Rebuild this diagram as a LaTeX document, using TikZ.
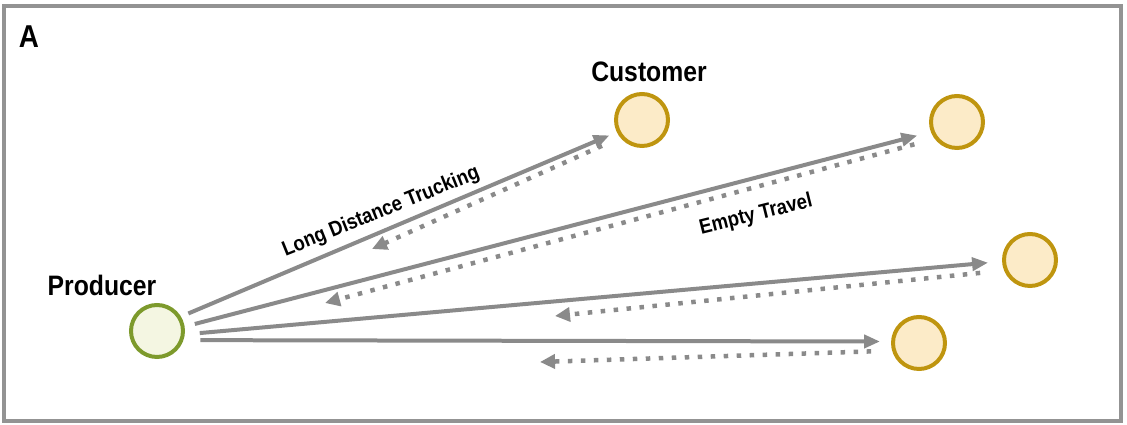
\documentclass[tikz,border=0pt]{standalone}
\usepackage{fontspec}
\setmainfont{Liberation Sans}[FakeStretch=0.88]
\usetikzlibrary{arrows.meta,positioning,calc}
\definecolor{linegray}{HTML}{8A8A8A}
\definecolor{framegray}{HTML}{939393}
\definecolor{prodgreen}{HTML}{7D9A2C}
\definecolor{prodfill}{HTML}{F4F6E2}
\definecolor{custgold}{HTML}{BF950F}
\definecolor{custfill}{HTML}{FCEBC8}

\begin{document}
\begin{tikzpicture}[x=0.02cm,y=0.02cm] % one unit is one pixel of the 1127x425 frame
\tikzset{every node/.style={font=\bfseries}} % all labels are bold
\tikzset{site/.style={circle, minimum size=1.04cm, line width=0.08cm, inner sep=0pt}} % producer and customers
\tikzset{producer/.style={site, draw=prodgreen, fill=prodfill}}
\tikzset{customer/.style={site, draw=custgold, fill=custfill}}
\tikzset{haul/.style={draw=linegray, line width=0.08cm, -{Triangle[length=0.32cm,width=0.26cm]}}} % loaded trucks
\tikzset{backhaul/.style={draw=linegray, line width=0.09cm, dash pattern=on 0.09cm off 0.17cm, -{Triangle[length=0.3cm,width=0.28cm]}}} % empty trucks
\useasboundingbox (0,0) rectangle (1127,-425);
\draw[draw=framegray, line width=0.07cm] (4,-6) rectangle (1121,-421);
\node[font=\bfseries\fontsize{18}{20}\selectfont] (tag) at (29,-37) {A};
% sites
\node[producer] (prod) at (157,-331) {};
\node[customer] (cust1) at (642,-120) {};
\node[customer] (cust2) at (957,-122) {};
\node[customer] (cust3) at (1030,-260) {};
\node[customer] (cust4) at (919,-343) {};
\node[font=\bfseries\fontsize{16}{18}\selectfont] (prodlbl) at (102,-285) {Producer};
\node[font=\bfseries\fontsize{16}{18}\selectfont] (custlbl) at (649,-72) {Customer};
% loaded runs
\draw[haul, shorten <=0.16cm, shorten >=0.16cm] (prod.31) -- (cust1.206);
\draw[haul, shorten <=0.21cm, shorten >=0.28cm] (prod.9) -- (cust2.201);
\draw[haul, shorten <=0.30cm, shorten >=0.28cm] (prod.-7) -- (cust3.183);
\draw[haul, shorten <=0.34cm, shorten >=0.22cm] (prod.-19) -- (cust4.177);
% empty runs back
\coordinate (ret1) at (372,-249);
\coordinate (ret2) at (325,-303);
\coordinate (ret3) at (555,-316);
\coordinate (ret4) at (540,-362);
\draw[backhaul, shorten <=0.40cm] (cust1.219) -- (ret1);
\draw[backhaul, shorten <=0.42cm] (cust2.217) -- (ret2);
\draw[backhaul, shorten <=0.48cm] (cust3.202) -- (ret3);
\draw[backhaul, shorten <=0.42cm] (cust4.196) -- (ret4);
\node[rotate=22, font=\bfseries\fontsize{12}{14}\selectfont] (trucklbl) at (381,-212) {Long Distance Trucking};
\node[rotate=14, font=\bfseries\fontsize{12}{14}\selectfont] (emptylbl) at (756,-215) {Empty Travel};
\end{tikzpicture}
\end{document}
